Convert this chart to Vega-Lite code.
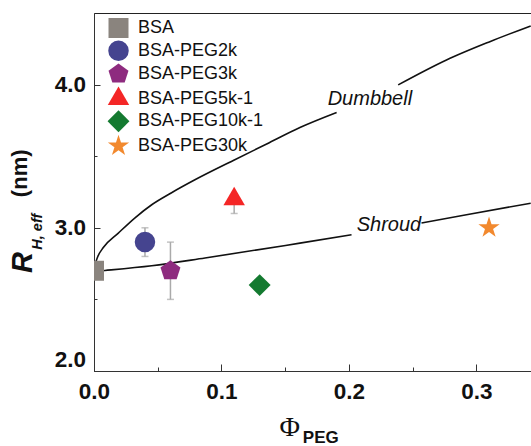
{
  "$schema": "https://vega.github.io/schema/vega-lite/v6.json",
  "width": 446,
  "height": 358,
  "autosize": "none",
  "padding": {"left": 94, "top": 13, "right": 0, "bottom": 75},
  "background": "white",
  "config": {
    "view": {"stroke": "#222", "strokeWidth": 1},
    "font": "Liberation Sans",
    "axis": {"grid": false, "domainColor": "#333", "tickColor": "#333", "domainWidth": 1, "tickWidth": 1}
  },
  "datasets": {
    "pts": [
      {"sample": "BSA", "phi": 0.0, "rh": 2.70},
      {"sample": "BSA-PEG2k", "phi": 0.04, "rh": 2.90, "lo": 2.80, "hi": 3.00},
      {"sample": "BSA-PEG3k", "phi": 0.06, "rh": 2.70, "lo": 2.50, "hi": 2.90},
      {"sample": "BSA-PEG5k-1", "phi": 0.11, "rh": 3.20, "lo": 3.10, "hi": 3.20},
      {"sample": "BSA-PEG10k-1", "phi": 0.13, "rh": 2.60},
      {"sample": "BSA-PEG30k", "phi": 0.31, "rh": 3.00}
    ],
    "curves": [
      {"seg": "D1", "phi": 0.0, "rh": 2.72},
      {"seg": "D1", "phi": 0.003, "rh": 2.80},
      {"seg": "D1", "phi": 0.0073, "rh": 2.862},
      {"seg": "D1", "phi": 0.0191, "rh": 2.963},
      {"seg": "D1", "phi": 0.0322, "rh": 3.07},
      {"seg": "D1", "phi": 0.0453, "rh": 3.161},
      {"seg": "D1", "phi": 0.0609, "rh": 3.245},
      {"seg": "D1", "phi": 0.0792, "rh": 3.335},
      {"seg": "D1", "phi": 0.1093, "rh": 3.47},
      {"seg": "D1", "phi": 0.1355, "rh": 3.585},
      {"seg": "D1", "phi": 0.1616, "rh": 3.70},
      {"seg": "D1", "phi": 0.1904, "rh": 3.805},
      {"seg": "D2", "phi": 0.2387, "rh": 3.998},
      {"seg": "D2", "phi": 0.2766, "rh": 4.172},
      {"seg": "D2", "phi": 0.3106, "rh": 4.300},
      {"seg": "D2", "phi": 0.3427, "rh": 4.410},
      {"seg": "S1", "phi": 0.0, "rh": 2.695},
      {"seg": "S1", "phi": 0.0086, "rh": 2.702},
      {"seg": "S1", "phi": 0.0453, "rh": 2.735},
      {"seg": "S1", "phi": 0.0871, "rh": 2.789},
      {"seg": "S1", "phi": 0.1616, "rh": 2.893},
      {"seg": "S1", "phi": 0.2021, "rh": 2.951},
      {"seg": "S2", "phi": 0.257, "rh": 3.033},
      {"seg": "S2", "phi": 0.2923, "rh": 3.091},
      {"seg": "S2", "phi": 0.3427, "rh": 3.172}
    ],
    "notes": [
      {"label": "Dumbbell", "phi": 0.2165, "rh": 3.855},
      {"label": "Shroud", "phi": 0.2315, "rh": 2.981}
    ]
  },
  "resolve": {"axis": {"x": "independent", "y": "independent"}},
  "layer": [
    {
      "data": {"name": "curves"},
      "mark": {"type": "line", "color": "#111", "strokeWidth": 1.6, "clip": true, "interpolate": "monotone"},
      "encoding": {
        "x": {"field": "phi", "type": "quantitative", "scale": {"domain": [0, 0.35], "nice": false},
              "axis": {"orient": "bottom", "values": [0, 0.1, 0.2, 0.3], "labels": false, "domain": false, "tickSize": -7, "title": null}},
        "y": {"field": "rh", "type": "quantitative", "scale": {"domain": [2, 4.5], "nice": false, "zero": false},
              "axis": {"orient": "left", "values": [2, 3, 4], "labels": false, "domain": false, "tickSize": -6, "title": null}},
        "detail": {"field": "seg", "type": "nominal"}
      }
    },
    {
      "data": {"name": "notes"},
      "mark": {"type": "text", "font": "Liberation Sans", "fontSize": 20, "fontStyle": "italic", "color": "#111", "align": "center", "baseline": "alphabetic"},
      "encoding": {
        "x": {"field": "phi", "type": "quantitative", "scale": {"domain": [0, 0.35], "nice": false}, "axis": null},
        "y": {"field": "rh", "type": "quantitative", "scale": {"domain": [2, 4.5], "nice": false, "zero": false}, "axis": null},
        "text": {"field": "label", "type": "nominal"}
      }
    },
    {
      "data": {"name": "pts"},
      "transform": [{"filter": "isValid(datum.lo)"}],
      "mark": {"type": "errorbar", "ticks": {"size": 7}, "color": "#aaaaaa", "thickness": 1.5},
      "encoding": {
        "x": {"field": "phi", "type": "quantitative", "scale": {"domain": [0, 0.35], "nice": false},
              "axis": {"orient": "bottom", "values": [0.05, 0.15, 0.25], "labels": false, "domain": false, "tickSize": -4, "title": null}},
        "y": {"field": "lo", "type": "quantitative", "scale": {"domain": [2, 4.5], "nice": false, "zero": false},
              "axis": {"orient": "left", "values": [2.5, 3.5], "labels": false, "domain": false, "tickSize": -3, "title": null}},
        "y2": {"field": "hi"}
      }
    },
    {
      "data": {"name": "pts"},
      "mark": {"type": "point", "filled": true, "opacity": 1, "strokeWidth": 0, "clip": true},
      "encoding": {
        "x": {"field": "phi", "type": "quantitative", "scale": {"domain": [0, 0.35], "nice": false},
              "axis": {"orient": "bottom", "values": [0, 0.1, 0.2, 0.3], "format": ".1f", "ticks": false, "labelFont": "Liberation Sans", "labelFontSize": 22.5, "labelFontWeight": "bold", "labelColor": "#111", "labelPadding": 9, "labelFlush": false, "labelOverlap": false, "title": null}},
        "y": {"field": "rh", "type": "quantitative", "scale": {"domain": [2, 4.5], "nice": false, "zero": false},
              "axis": {"orient": "left", "values": [2, 3, 4], "format": ".1f", "ticks": false, "labelFont": "Liberation Sans", "labelFontSize": 22.5, "labelFontWeight": "bold", "labelColor": "#111", "labelPadding": 8.5, "labelFlush": true, "labelOverlap": false, "title": null}},
        "color": {"field": "sample", "type": "nominal",
                  "scale": {"domain": ["BSA", "BSA-PEG2k", "BSA-PEG3k", "BSA-PEG5k-1", "BSA-PEG10k-1", "BSA-PEG30k"],
                            "range": ["#8a847e", "#45448f", "#8e2b7f", "#f42626", "#147a30", "#f2892e"]},
                  "legend": {"title": null, "orient": "none", "legendX": 13, "legendY": 5, "padding": 0, "labelFont": "Liberation Sans", "labelFontSize": 18, "labelColor": "#111", "symbolSize": 420, "rowPadding": 2.3, "labelOffset": 8, "symbolStrokeWidth": 0, "symbolOpacity": 1}},
        "shape": {"field": "sample", "type": "nominal",
                  "scale": {"domain": ["BSA", "BSA-PEG2k", "BSA-PEG3k", "BSA-PEG5k-1", "BSA-PEG10k-1", "BSA-PEG30k"],
                            "range": ["square", "circle", "M0,-1L0.951,-0.309L0.588,0.809L-0.588,0.809L-0.951,-0.309Z", "M0,-1.155L1,0.577L-1,0.577Z", "diamond", "M0,-1L0.2245,-0.309L0.951,-0.309L0.363,0.118L0.588,0.809L0,0.382L-0.588,0.809L-0.363,0.118L-0.951,-0.309L-0.2245,-0.309Z"]},
                  "legend": {"title": null, "orient": "none", "legendX": 13, "legendY": 5, "padding": 0, "labelFont": "Liberation Sans", "labelFontSize": 18, "labelColor": "#111", "symbolSize": 420, "rowPadding": 2.3, "labelOffset": 8, "symbolStrokeWidth": 0, "symbolOpacity": 1}},
        "size": {"field": "sample", "type": "nominal",
                 "scale": {"domain": ["BSA", "BSA-PEG2k", "BSA-PEG3k", "BSA-PEG5k-1", "BSA-PEG10k-1", "BSA-PEG30k"],
                           "range": [400, 500, 654, 784, 760, 690]},
                 "legend": null}
      }
    },
    {
      "data": {"values": [{}]},
      "mark": {"type": "text", "text": "R", "font": "Liberation Sans", "fontSize": 29, "fontWeight": "bold", "fontStyle": "italic", "angle": 270, "align": "center", "baseline": "alphabetic", "color": "#111"},
      "encoding": {
        "x": {"datum": -0.0489, "type": "quantitative", "scale": {"domain": [0, 0.35], "nice": false}, "axis": null},
        "y": {"datum": 2.7577, "type": "quantitative", "scale": {"domain": [2, 4.5], "nice": false, "zero": false}, "axis": null}
      }
    },
    {
      "data": {"values": [{}]},
      "mark": {"type": "text", "text": "H, eff", "font": "Liberation Sans", "fontSize": 14.5, "fontWeight": "bold", "fontStyle": "italic", "angle": 270, "align": "center", "baseline": "alphabetic", "color": "#111"},
      "encoding": {
        "x": {"datum": -0.041, "type": "quantitative", "scale": {"domain": [0, 0.35], "nice": false}, "axis": null},
        "y": {"datum": 2.973, "type": "quantitative", "scale": {"domain": [2, 4.5], "nice": false, "zero": false}, "axis": null}
      }
    },
    {
      "data": {"values": [{}]},
      "mark": {"type": "text", "text": "(nm)", "font": "Liberation Sans", "fontSize": 22, "fontWeight": "bold", "angle": 270, "align": "center", "baseline": "alphabetic", "color": "#111"},
      "encoding": {
        "x": {"datum": -0.0525, "type": "quantitative", "scale": {"domain": [0, 0.35], "nice": false}, "axis": null},
        "y": {"datum": 3.3806, "type": "quantitative", "scale": {"domain": [2, 4.5], "nice": false, "zero": false}, "axis": null}
      }
    },
    {
      "data": {"values": [{}]},
      "mark": {"type": "text", "text": "Φ", "font": "Liberation Serif", "fontSize": 28, "align": "center", "baseline": "alphabetic", "color": "#111"},
      "encoding": {
        "x": {"datum": 0.1537, "type": "quantitative", "scale": {"domain": [0, 0.35], "nice": false}, "axis": null},
        "y": {"datum": 1.5464, "type": "quantitative", "scale": {"domain": [2, 4.5], "nice": false, "zero": false}, "axis": null}
      }
    },
    {
      "data": {"values": [{}]},
      "mark": {"type": "text", "text": "PEG", "font": "Liberation Sans", "fontSize": 17, "fontWeight": "bold", "align": "left", "baseline": "alphabetic", "color": "#111"},
      "encoding": {
        "x": {"datum": 0.1639, "type": "quantitative", "scale": {"domain": [0, 0.35], "nice": false}, "axis": null},
        "y": {"datum": 1.4976, "type": "quantitative", "scale": {"domain": [2, 4.5], "nice": false, "zero": false}, "axis": null}
      }
    }
  ]
}
